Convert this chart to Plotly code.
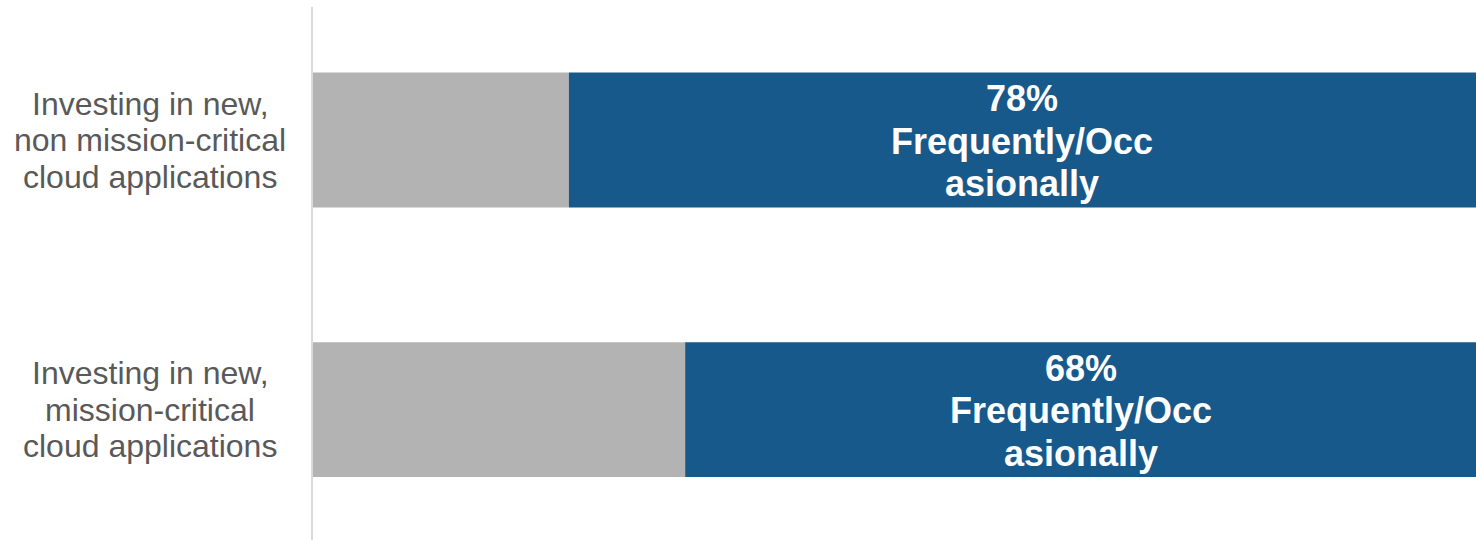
import plotly.graph_objects as go

categories = [["Investing in new,", "non mission-critical", "cloud applications"],
              ["Investing in new,", "mission-critical", "cloud applications"]]
rarely_never = [22, 32]
freq_occ = [78, 68]
freq_label = ["Frequently/Occ", "asionally"]

FONT = "Liberation Sans, Arial, sans-serif"
ypos = list(range(len(categories)))

fig = go.Figure()
fig.add_trace(go.Bar(
    y=ypos, x=rarely_never, orientation="h",
    marker=dict(color="#B3B3B3", line=dict(width=0)), width=0.5,
    hoverinfo="skip", name="Rarely/Never"))
fig.add_trace(go.Bar(
    y=ypos, x=freq_occ, base=rarely_never, orientation="h",
    marker=dict(color="#18598C", line=dict(width=0)), width=0.5,
    hoverinfo="skip", name="Frequently/Occasionally"))

# value labels inside blue segments (line spacing matched to reference)
for i, (r, f) in enumerate(zip(rarely_never, freq_occ)):
    lines = [f"{f}%"] + freq_label
    n = len(lines)
    for k, t in enumerate(lines):
        fig.add_annotation(x=r + f / 2, xref="x", y=i, yref="y", text=f"<b>{t}</b>",
                           showarrow=False, xanchor="center", yanchor="middle",
                           yshift=-(k - (n - 1) / 2) * 42.5 - 1,
                           font=dict(family=FONT, size=36, color="white"))

# category labels, centered multi-line
for i, lines in enumerate(categories):
    n = len(lines)
    for k, t in enumerate(lines):
        fig.add_annotation(x=-0.14, xref="paper", y=i, yref="y", text=t,
                           showarrow=False, xanchor="center", yanchor="middle",
                           yshift=-(k - (n - 1) / 2) * 36.5,
                           font=dict(family=FONT, size=32, color="#595959"))

fig.update_layout(
    barmode="overlay", width=1476, height=540,
    margin=dict(l=313, r=0, t=7, b=0),
    plot_bgcolor="white", paper_bgcolor="white", showlegend=False,
    xaxis=dict(range=[0, 100], visible=False, fixedrange=True),
    yaxis=dict(range=[1.4842, -0.4935], showticklabels=False, showgrid=False,
               zeroline=False, showline=True, linecolor="#D9D9D9", linewidth=1.5,
               ticks=""),
)
fig.write_html("out.html")
